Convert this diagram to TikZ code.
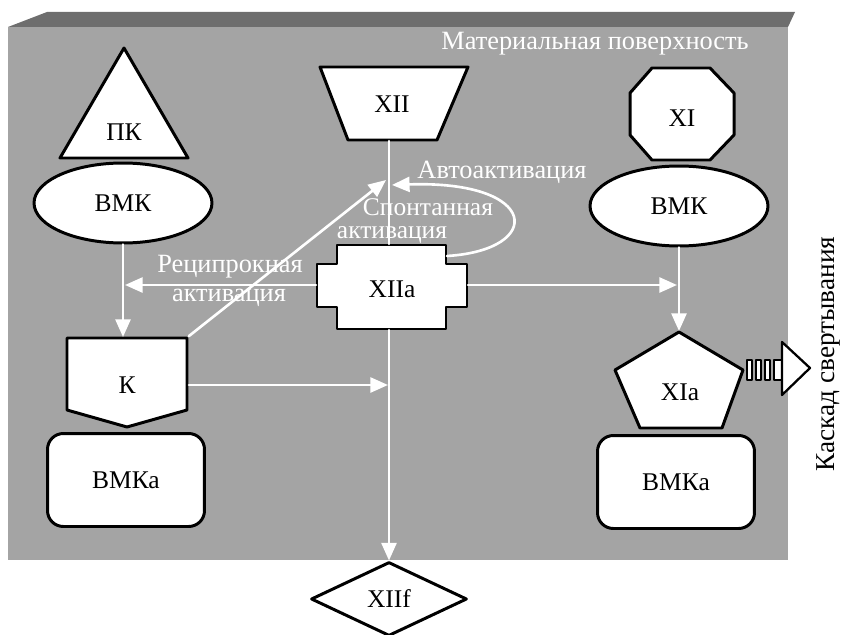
\documentclass[tikz,border=0pt]{standalone}
\usepackage{fontspec}
\setmainfont{Liberation Serif}
\usetikzlibrary{arrows.meta,shapes.geometric,positioning}
\definecolor{panelgray}{gray}{0.645}
\definecolor{topgray}{gray}{0.43}
\tikzset{
  blk/.style={draw=black, line width=1.7pt, fill=white, line join=round},
  oval/.style={ellipse, blk, minimum width=3.56cm, minimum height=1.6cm, font=\fontsize{14.5}{16}\selectfont},
  rbox/.style={rectangle, blk, rounded corners=9pt, minimum width=3.14cm, minimum height=1.86cm, font=\fontsize{14.5}{16}\selectfont},
  rhomb/.style={diamond, blk, minimum width=3.12cm, minimum height=1.48cm, inner sep=0pt, font=\fontsize{14.5}{16}\selectfont},
  lbl/.style={inner sep=0pt, font=\fontsize{14.5}{16}\selectfont},
  wlbl/.style={inner sep=0pt, text=white, font=\fontsize{15}{17}\selectfont},
  warr/.style={draw=white, line width=1.5pt, -{Triangle[length=10pt, width=8.5pt]}},
  wline/.style={draw=white, line width=1.5pt},
  tailbox/.style={draw=black, line width=0.9pt, fill=white},
  every picture/.style={line cap=round, line join=round}
}

\begin{document}
\begin{tikzpicture}[x=0.02cm, y=-0.02cm]
  \useasboundingbox (0,0) rectangle (842,635);
  \fill[panelgray] (8,27) rectangle (788,560);
  \fill[topgray] (8,27) -- (47,12) -- (795,12) -- (788,27) -- cycle;
  \node[wlbl] (surf) at (595,44) {Материальная поверхность};

  \draw[blk] (124,48) -- (188,158) -- (60,158) -- cycle;
  \node[lbl] (pk) at (124,132) {ПК};
  \node[oval] (vmkL) at (123,203) {ВМК};
  \draw[blk] (67,338) -- (187,338) -- (187,410) -- (127,427) -- (67,410) -- cycle;
  \node[lbl] (k) at (127,385) {К};
  \node[rbox] (vmkaL) at (126,480) {ВМКа};

  \draw[blk] (320,67) -- (468,67) -- (437,140) -- (348,140) -- cycle;
  \node[lbl] (xii) at (392,104) {XII};
  \draw[blk] (337,245) -- (446,245) -- (446,264) -- (467,264) -- (467,307) -- (446,307)
    -- (446,329) -- (337,329) -- (337,307) -- (317,307) -- (317,264) -- (337,264) -- cycle;
  \node[lbl] (xiia) at (392,289) {XIIa};
  \node[rhomb] (xiif) at (389,599) {XIIf};

  \draw[blk] (652,68) -- (710,68) -- (734,93) -- (734,135) -- (710,160) -- (652,160)
    -- (630,135) -- (630,93) -- cycle;
  \node[lbl] (xi) at (682,118) {XI};
  \node[oval] (vmkR) at (679,206) {ВМК};
  \draw[blk] (679,332) -- (743,370) -- (722,428) -- (640,428) -- (615,370) -- cycle;
  \node[lbl] (xia) at (680,392) {XIa};
  \node[rbox] (vmkaR) at (676,482) {ВМКа};

  \coordinate (xiiS) at (389,141);
  \coordinate (xiiaN) at (389,244);
  \coordinate (xiiaS) at (389,330);
  \coordinate (kN) at (123,337);
  \coordinate (kNE) at (189,336);
  \coordinate (kE) at (189,385);
  \coordinate (lineK) at (388,385);
  \coordinate (lineA) at (386,180);
  \coordinate (auto) at (392,185);
  \coordinate (xiiaW) at (316,285);
  \coordinate (xiiaE) at (468,285);
  \coordinate (xiiaNE) at (447,256);
  \coordinate (leftHit) at (125,285);
  \coordinate (rightHit) at (677,285);
  \coordinate (xiaN) at (679,331);

  \draw[wline] (xiiS) -- (xiiaN);
  \draw[warr] (xiiaS) -- (xiif.north);
  \draw[warr] (vmkL.south) -- (kN);
  \draw[warr] (vmkR.south) -- (xiaN);
  \draw[warr] (xiiaW) -- (leftHit);
  \draw[warr] (xiiaE) -- (rightHit);
  \draw[warr] (kNE) -- (lineA);
  \draw[warr] (kE) -- (lineK);
  \draw[warr] (xiiaNE) .. controls (545,250) and (540,180) .. (auto);

  \node[wlbl] (recip1) at (230,267) {Реципрокная};
  \node[wlbl] (recip2) at (229,298) {активация};
  \node[wlbl, font=\fontsize{14.5}{16}\selectfont] (spont1) at (428,207) {Спонтанная};
  \node[wlbl, font=\fontsize{14.5}{16}\selectfont] (spont2) at (392,235) {активация};
  \node[wlbl] (autoact) at (502,172) {Автоактивация};

  \draw[tailbox] (747,360) rectangle (752,380);
  \draw[tailbox] (756,360) rectangle (761,380);
  \draw[tailbox] (765,360) rectangle (770,380);
  \draw[tailbox] (774,360) rectangle (783,380);
  \draw[tailbox, line width=1.3pt] (782,342) -- (810,368) -- (782,395) -- cycle;
  \node[lbl, rotate=90, font=\fontsize{15.5}{17}\selectfont] (cascade) at (828,354) {Каскад свертывания};
\end{tikzpicture}
\end{document}
